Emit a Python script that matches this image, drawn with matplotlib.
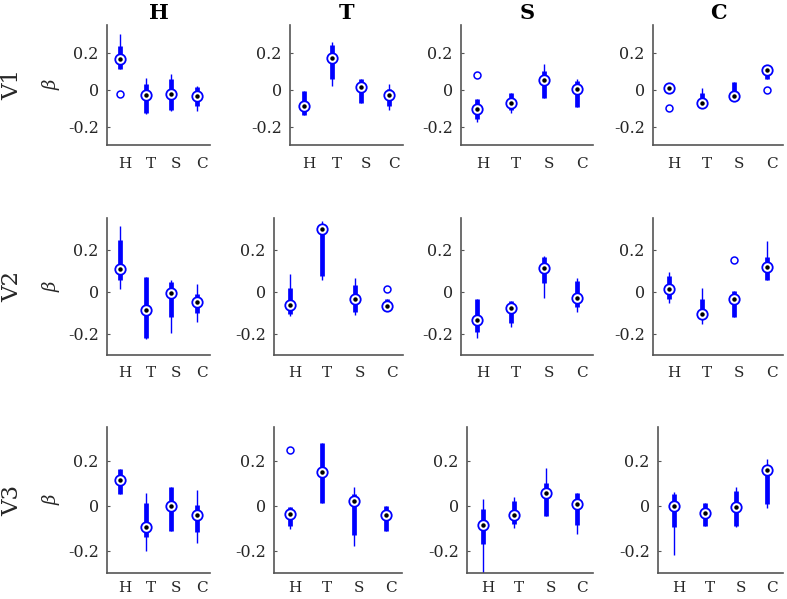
import numpy as np
import matplotlib.pyplot as plt
from matplotlib.transforms import ScaledTranslation

plt.rcParams['font.family'] = ['DejaVu Serif']

cats = ['H', 'T', 'S', 'C']
rows = ['V1', 'V2', 'V3']

# [row][panel][category]
med = [
    [[0.164, -0.027, -0.024, -0.033], [-0.087, 0.169, 0.013, -0.027],
     [-0.105, -0.073, 0.051, 0.002], [0.009, -0.073, -0.036, 0.105]],
    [[0.109, -0.087, -0.008, -0.049], [-0.061, 0.298, -0.033, -0.068],
     [-0.134, -0.076, 0.113, -0.028], [0.011, -0.104, -0.036, 0.117]],
    [[0.114, -0.096, 0.0, -0.041], [-0.039, 0.148, 0.021, -0.041],
     [-0.086, -0.041, 0.058, 0.006], [-0.003, -0.034, -0.007, 0.160]],
]
q1 = [
    [[0.109, -0.127, -0.109, -0.087], [-0.136, 0.055, -0.073, -0.087],
     [-0.160, -0.109, -0.045, -0.095], [-0.018, -0.091, -0.040, 0.060]],
    [[0.055, -0.217, -0.118, -0.102], [-0.107, 0.077, -0.096, -0.070],
     [-0.190, -0.146, 0.043, -0.071], [-0.036, -0.120, -0.118, 0.058]],
    [[0.052, -0.141, -0.111, -0.116], [-0.089, 0.010, -0.133, -0.111],
     [-0.173, -0.081, -0.047, -0.086], [-0.093, -0.089, -0.089, 0.007]],
]
q3 = [
    [[0.236, 0.033, 0.055, 0.015], [-0.009, 0.240, 0.058, 0.004],
     [-0.051, -0.018, 0.100, 0.045], [0.027, -0.018, 0.040, 0.118]],
    [[0.247, 0.071, 0.046, -0.009], [0.019, 0.300, 0.033, -0.033],
     [-0.033, -0.044, 0.164, 0.049], [0.077, -0.036, 0.003, 0.164]],
    [[0.163, 0.010, 0.081, 0.003], [-0.004, 0.280, 0.052, -0.003],
     [-0.015, 0.022, 0.099, 0.056], [0.052, 0.010, 0.064, 0.163]],
]
wlo = [
    [[0.109, -0.130, -0.115, -0.115], [-0.140, 0.022, -0.073, -0.109],
     [-0.173, -0.124, -0.045, -0.095], [-0.018, -0.091, -0.040, 0.060]],
    [[0.014, -0.225, -0.197, -0.143], [-0.115, 0.054, -0.112, -0.070],
     [-0.217, -0.165, -0.028, -0.094], [-0.055, -0.154, -0.118, 0.058]],
    [[0.052, -0.200, -0.111, -0.166], [-0.104, 0.010, -0.182, -0.111],
     [-0.310, -0.099, -0.047, -0.126], [-0.219, -0.089, -0.096, -0.010]],
]
whi = [
    [[0.300, 0.064, 0.082, 0.022], [-0.005, 0.258, 0.058, 0.031],
     [-0.051, -0.018, 0.140, 0.055], [0.027, 0.009, 0.040, 0.118]],
    [[0.313, 0.071, 0.058, 0.038], [0.082, 0.334, 0.066, -0.033],
     [-0.033, -0.044, 0.168, 0.066], [0.093, 0.016, 0.003, 0.239]],
    [[0.163, 0.055, 0.081, 0.071], [-0.004, 0.280, 0.084, -0.003],
     [0.030, 0.040, 0.167, 0.056], [0.059, 0.010, 0.081, 0.207]],
]
# (row, panel, category, value)
outliers = [
    (0, 0, 0, -0.024), (0, 2, 0, 0.078), (0, 3, 0, -0.100), (0, 3, 3, 0.0),
    (1, 1, 3, 0.011), (1, 3, 2, 0.153),
    (2, 1, 0, 0.247),
]

W, H = 787, 599
# panel edges in pixels
xpx = [
    [(107, 210), (290, 403), (461, 593), (653, 783)],
    [(107, 210), (274, 403), (461, 593), (653, 783)],
    [(107, 210), (274, 402), (467, 593), (658, 783)],
]
ypx = [(25, 145), (218, 355), (427, 573)]
xpad = [9, 8, 5.5]

fig = plt.figure(figsize=(7.87, 5.99), dpi=100)
x = np.arange(1, 5)

for r in range(3):
    for c in range(4):
        l, rr = xpx[r][c]
        t, b = ypx[r]
        ax = fig.add_axes([l / W, 1 - b / H, (rr - l) / W, (b - t) / H])
        ax.vlines(x, wlo[r][c], whi[r][c], color='b', lw=1.0, capstyle='butt')
        ax.vlines(x, q1[r][c], q3[r][c], color='b', lw=3.4, capstyle='butt')
        ax.plot(x, med[r][c], 'o', ms=7.5, mfc='w', mec='b', mew=1.3, zorder=3)
        ax.plot(x, med[r][c], 'o', ms=2.2, color='k', zorder=4)
        ox = [o[2] + 1 for o in outliers if o[0] == r and o[1] == c]
        oy = [o[3] for o in outliers if o[0] == r and o[1] == c]
        if ox:
            ax.plot(ox, oy, 'o', ms=5, mfc='none', mec='b', mew=1.1)

        ax.set_xlim(0.5, 4.5)
        ax.set_ylim(-0.3, 0.35)
        ax.set_xticks(x)
        ax.set_xticklabels(cats)
        ax.set_yticks([-0.2, 0, 0.2])
        ax.set_yticklabels(['-0.2', '0', '0.2'])
        ax.tick_params(axis='y', direction='in', length=2, width=0.8,
                       color='#555555', labelsize=11.5, labelcolor='#262626', pad=6)
        ax.tick_params(axis='x', length=0, labelsize=11, labelcolor='#262626',
                       pad=xpad[r])
        for lab in ax.get_xticklabels():
            lab.set_transform(lab.get_transform() +
                              ScaledTranslation(0.05, 0, fig.dpi_scale_trans))
        for s in ['top', 'right']:
            ax.spines[s].set_visible(False)
        for s in ['left', 'bottom']:
            ax.spines[s].set_color('#555555')
            ax.spines[s].set_linewidth(1.2)
        if r == 0:
            ax.set_title(cats[c], fontsize=15, fontweight='bold', pad=4)

    yc = 1 - (ypx[r][0] + ypx[r][1]) / 2 / H
    fig.text(12 / W, yc, rows[r], rotation=90, ha='center', va='center',
             fontsize=16.5, color='#262626')
    fig.text(52 / W, yc, 'β', rotation=90, ha='center', va='center',
             fontsize=13, style='italic', color='#262626')

fig.savefig('out.png', dpi=100)
